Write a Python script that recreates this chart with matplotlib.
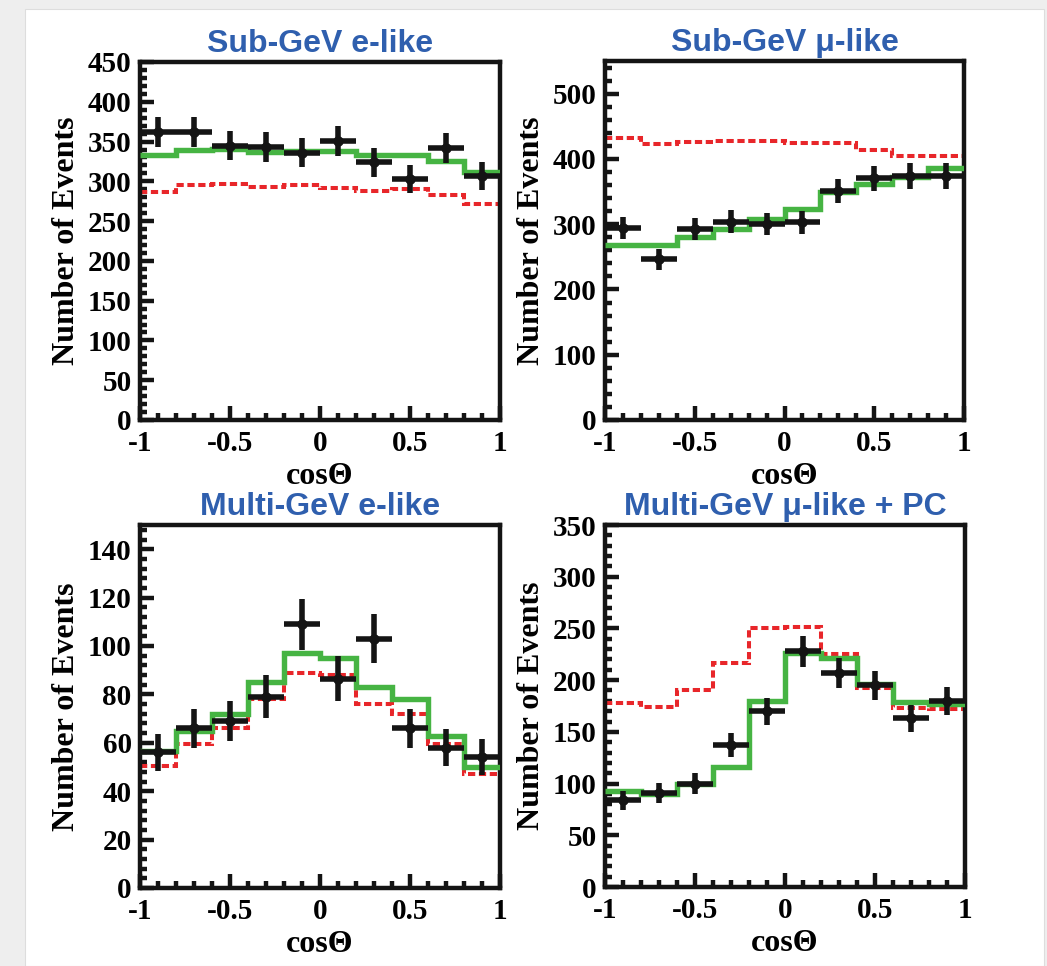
"""
Zenith angle distributions (Sub-GeV / Multi-GeV, e-like / mu-like)
- data points with error bars, best-fit (green) and no-oscillation (red dashed)
- saves out.png
"""
import numpy as np
import matplotlib
matplotlib.use('Agg')
import matplotlib.pyplot as plt
from matplotlib.patches import Rectangle
from matplotlib.ticker import MultipleLocator, AutoMinorLocator, FuncFormatter

plt.rcParams['axes.unicode_minus'] = False

# ─────────────────────────────────────────────
# data
# ─────────────────────────────────────────────
bin_edges = [-1.0, -0.8, -0.6, -0.4, -0.2, 0.0, 0.2, 0.4, 0.6, 0.8, 1.0]

titles = ['Sub-GeV e-like', 'Sub-GeV \u03bc-like',
          'Multi-GeV e-like', 'Multi-GeV \u03bc-like + PC']
ymax = [450, 550, 150, 350]
ystep = [50, 100, 20, 50]

sge_data = [362, 362, 345, 343, 336, 351, 324, 303, 342, 307]
sge_err = [19, 19, 18.5, 18.5, 18.3, 18.7, 18, 17.4, 18.5, 17.5]
sge_fit = [333, 339, 341, 337, 338, 338, 333, 333, 326, 312]
sge_null = [287, 295, 297, 293, 295, 291, 288, 290, 283, 272]

sgm_data = [294, 246, 292, 304, 300, 303, 351, 370, 374, 374]
sgm_err = [17, 16, 17, 17.5, 17.3, 17.4, 18.7, 19.2, 19.4, 19.4]
sgm_fit = [268, 268, 280, 292, 308, 323, 349, 362, 373, 386]
sgm_null = [432, 423, 426, 428, 428, 425, 425, 414, 404, 404]

mge_data = [56, 66, 69, 79, 109, 86.5, 103, 66, 58, 54]
mge_err = [7.5, 8.1, 8.3, 8.9, 10.5, 9.3, 10.2, 8.1, 7.6, 7.4]
mge_fit = [56.5, 65, 72, 85, 97, 95, 83, 78, 63, 50]
mge_null = [50.5, 59.5, 66, 78, 89, 88, 76, 72, 59.5, 47]

mgm_data = [84, 91, 100, 137, 170, 228, 207, 195, 163, 180]
mgm_err = [9.1, 9.5, 10, 11.7, 13, 15.1, 14.4, 14, 12.8, 13.4]
mgm_fit = [93, 90, 99.5, 116, 180, 226, 221, 196, 179, 177]
mgm_null = [178, 174, 190, 217, 250, 251, 225, 192, 173, 172]

all_data = [sge_data, sgm_data, mge_data, mgm_data]
all_err = [sge_err, sgm_err, mge_err, mgm_err]
all_fit = [sge_fit, sgm_fit, mge_fit, mgm_fit]
all_null = [sge_null, sgm_null, mge_null, mgm_null]

# ─────────────────────────────────────────────
# figure
# ─────────────────────────────────────────────
W, H = 1047, 966
fig = plt.figure(figsize=(W / 100, H / 100), dpi=100, facecolor='#eeeeee')
fig.patches.append(Rectangle((25 / W, 0), (1044 - 25) / W, (H - 9) / H,
                             transform=fig.transFigure, facecolor='white',
                             edgecolor='#dddddd', linewidth=0.8, zorder=-10))

# axes boxes in pixels: left, top, right, bottom
boxes = [(140, 62, 500, 420), (605, 61, 964, 420),
         (140, 525, 500, 888), (605, 525, 965, 887)]

SERIF = 'Liberation Serif'
SANS = 'Liberation Sans'
edges = np.array(bin_edges)
centers = (edges[:-1] + edges[1:]) / 2
half = np.diff(edges) / 2

for i, (l, t, r, b) in enumerate(boxes):
    ax = fig.add_axes([l / W, 1 - b / H, (r - l) / W, (b - t) / H])
    ax.set_facecolor('none')

    ax.stairs(all_null[i], edges, color='#e8262a', linewidth=2.9,
              linestyle=(0, (1.8, 0.9)), baseline=None, zorder=2)
    ax.stairs(all_fit[i], edges, color='#46b443', linewidth=3.9,
              baseline=None, zorder=3)
    ax.errorbar(centers, all_data[i], xerr=half, yerr=all_err[i],
                fmt='o', ms=6.5, color='#141414', elinewidth=4,
                capsize=0, zorder=4)

    ax.set_xlim(-1, 1)
    ax.set_ylim(0, ymax[i])
    ax.xaxis.set_major_locator(MultipleLocator(0.5))
    ax.xaxis.set_minor_locator(MultipleLocator(0.1))
    ax.yaxis.set_major_locator(MultipleLocator(ystep[i]))
    ax.yaxis.set_minor_locator(AutoMinorLocator(5))
    ax.xaxis.set_major_formatter(FuncFormatter(lambda v, _: f'{v:g}'))
    ax.yaxis.set_major_formatter(FuncFormatter(lambda v, _: f'{v:g}'))

    ax.tick_params(which='both', direction='in', top=False, right=False,
                   width=3.2, color='#141414')
    ax.tick_params(which='major', length=10)
    ax.tick_params(which='minor', length=5)
    ax.tick_params(axis='y', pad=6)
    ax.tick_params(axis='x', pad=7)
    for lab in ax.get_xticklabels() + ax.get_yticklabels():
        lab.set_fontfamily(SERIF)
        lab.set_fontweight('bold')
        lab.set_fontsize(21)

    for sp in ax.spines.values():
        sp.set_linewidth(3.2)
        sp.set_color('#141414')

    ax.set_xlabel('cos\u0398', fontfamily=SERIF, fontweight='bold',
                  fontsize=23, labelpad=4)
    ax.set_ylabel('Number of Events', fontfamily=SERIF, fontweight='bold',
                  fontsize=23, labelpad=5)
    ax.set_title(titles[i], fontfamily=SANS, fontweight='bold', fontsize=23,
                 color='#2f5fae', pad=7)

fig.savefig('out.png', dpi=100, facecolor=fig.get_facecolor())
